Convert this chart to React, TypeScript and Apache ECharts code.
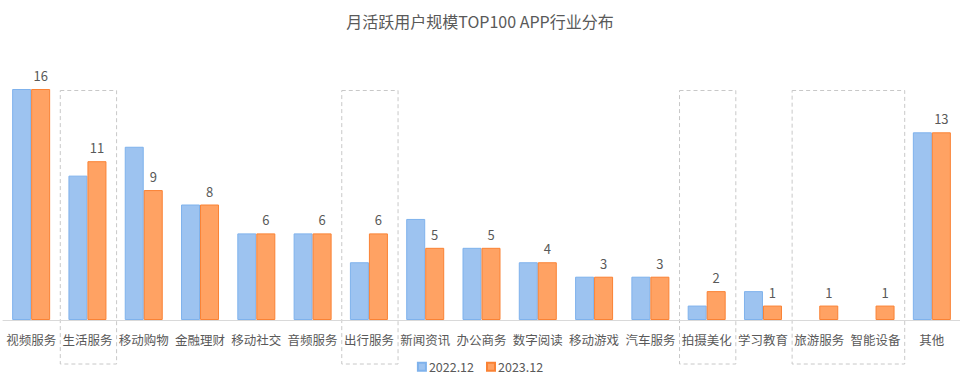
import React, { useEffect, useRef } from "react";
import * as echarts from "echarts";

const categories = ["视频服务", "生活服务", "移动购物", "金融理财", "移动社交", "音频服务", "出行服务", "新闻资讯", "办公商务", "数字阅读", "移动游戏", "汽车服务", "拍摄美化", "学习教育", "旅游服务", "智能设备", "其他"];
const values2022 = [16, 10, 12, 8, 6, 6, 4, 7, 5, 4, 3, 3, 1, 2, 0, 0, 13];
const values2023 = [16, 11, 9, 8, 6, 6, 6, 5, 5, 4, 3, 3, 2, 1, 1, 1, 13];
const seriesNames = ["2022.12", "2023.12"];
const highlightGroups = [["生活服务"], ["出行服务"], ["拍摄美化"], ["旅游服务", "智能设备"]];

const FONT = "'Noto Sans CJK SC', 'Noto Sans', sans-serif";
const GRAY = "#595959";

// zero values draw no bar at all (no hairline outline)
const toBarData = (arr: number[]) => arr.map((v) => (v === 0 ? null : v));

export default function App() {
  const ref = useRef<HTMLDivElement>(null);
  useEffect(() => {
    if (!ref.current) return;
    const chart = echarts.init(ref.current, null, { renderer: "svg" });
    chart.setOption({
      animation: false,
      textStyle: { fontFamily: FONT },
      title: {
        text: "月活跃用户规模TOP100 APP行业分布",
        left: "center",
        top: 8,
        textStyle: { fontFamily: FONT, fontSize: 16, fontWeight: "normal", color: GRAY },
      },
      legend: {
        bottom: 0,
        left: "center",
        icon: "rect",
        itemWidth: 8,
        itemHeight: 8,
        itemGap: 12,
        textStyle: { fontFamily: FONT, fontSize: 12.5, color: GRAY, padding: [0, 0, 0, -2] },
        data: seriesNames,
      },
      grid: { left: 3, right: 0, top: 89, bottom: 58, containLabel: false },
      xAxis: {
        type: "category",
        data: categories,
        axisTick: { show: false },
        axisLine: { lineStyle: { color: "#d9d9d9" } },
        axisLabel: { color: GRAY, fontSize: 12.5, margin: 13, interval: 0, fontFamily: FONT },
      },
      yAxis: { type: "value", min: 0, max: 16, show: false, splitLine: { show: false } },
      series: [
        {
          name: seriesNames[0],
          type: "bar",
          data: toBarData(values2022),
          barWidth: 19,
          barGap: "0%",
          itemStyle: { color: "#9DC3F0", borderColor: "#7FB2EC", borderWidth: 1 },
        },
        {
          name: seriesNames[1],
          type: "bar",
          data: toBarData(values2023),
          barWidth: 19,
          barGap: "0%",
          itemStyle: { color: "#FFA263", borderColor: "#FA8234", borderWidth: 1 },
          label: { show: true, position: "top", distance: 7, color: GRAY, fontSize: 13, fontFamily: FONT },
        },
      ],
    });

    const c0 = chart.convertToPixel({ xAxisIndex: 0 }, 0) as number;
    const c1 = chart.convertToPixel({ xAxisIndex: 0 }, 1) as number;
    const band = c1 - c0;
    const yTop = (chart.convertToPixel({ yAxisIndex: 0 }, 16) as number) + 1.5;
    const yBase = chart.convertToPixel({ yAxisIndex: 0 }, 0) as number;
    const yBottom = yBase + 44;
    const graphics = highlightGroups.map((g) => {
      const i0 = categories.indexOf(g[0]);
      const i1 = categories.indexOf(g[g.length - 1]);
      const x0 = (chart.convertToPixel({ xAxisIndex: 0 }, i0) as number) - band / 2 + 1;
      const x1 = (chart.convertToPixel({ xAxisIndex: 0 }, i1) as number) + band / 2 + 1;
      return {
        type: "rect",
        shape: { x: x0, y: yTop, width: x1 - x0, height: yBottom - yTop },
        style: { fill: "none", stroke: "#c8c8c8", lineWidth: 1, lineDash: [4, 3] },
        silent: true,
        z: 0,
      };
    });
    chart.setOption({ graphic: graphics });

    return () => chart.dispose();
  }, []);
  return <div ref={ref} style={{ width: 960, height: 378, position: "absolute", left: 0, top: 0 }} />;
}
